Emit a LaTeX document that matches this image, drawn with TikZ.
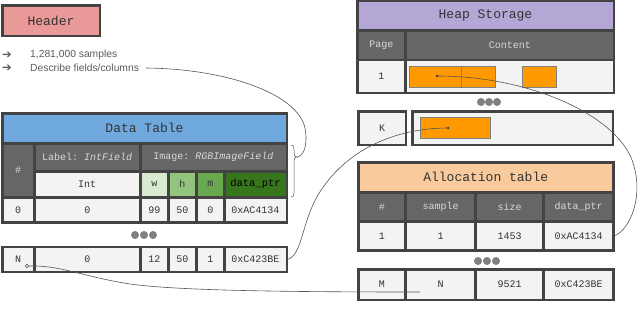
\documentclass[tikz,border=0pt]{standalone}
\usepackage{fontspec}
\setmainfont{Liberation Sans}
\setmonofont{Liberation Mono}
\newfontfamily\symfont{DejaVu Sans}
\definecolor{bord}{HTML}{434343}
\definecolor{cellD}{HTML}{666666}
\definecolor{cellL}{HTML}{F3F3F3}
\definecolor{txtL}{HTML}{D9D9D9}
\definecolor{txtD}{HTML}{333333}
\definecolor{pinkH}{HTML}{EA9999}
\definecolor{blueH}{HTML}{6FA8DC}
\definecolor{purpH}{HTML}{B4A7D6}
\definecolor{orgH}{HTML}{F9CB9C}
\definecolor{gA}{HTML}{D9EAD3}
\definecolor{gB}{HTML}{93C47D}
\definecolor{gC}{HTML}{6AA84F}
\definecolor{gD}{HTML}{38761D}
\definecolor{orangeB}{HTML}{FF9900}
\definecolor{dotc}{HTML}{808080}
\definecolor{connc}{HTML}{555555}
\definecolor{bulc}{HTML}{5A5A5A}
\newcommand\cell[7]{\node[inner sep=0pt, outer sep=0pt, #6, minimum width={(#4-#2)*1pt}, minimum height={(#5-#3)*1pt}] (#1) at ({(#2+#4)/2},{(#3+#5)/2}) {#7};}
\tikzset{
  blk/.style={fill=bord},
  lc/.style={fill=cellL, text=txtD, font=\ttfamily\fontsize{10}{12}\selectfont},
  dc/.style={fill=cellD, text=txtL, font=\ttfamily\fontsize{10}{12}\selectfont},
  ttl/.style={text=txtD, font=\ttfamily\fontsize{13}{15}\selectfont},
  obox/.style={fill=orangeB, draw=gray, line width=0.7pt},
  bigdot/.style={circle, fill=dotc, minimum size=8pt, inner sep=0pt},
  smalldot/.style={circle, fill=bord, minimum size=3pt, inner sep=0pt},
  conn/.style={draw=connc, line width=0.6pt},
  bul/.style={anchor=west, inner sep=0pt, text=bulc, font=\fontsize{10.3}{12}\selectfont}
}
\begin{document}
\begin{tikzpicture}[x=1pt,y=-1pt]
\useasboundingbox (0,0) rectangle (640,324);
% Header
\cell{hdrbg}{1}{4}{101}{37}{blk}{}
\cell{hdr}{3.5}{6.5}{98.5}{34.5}{ttl,fill=pinkH}{Header}
\node[bul] (a1) at (2,55) {\symfont\fontsize{11.5}{12}\selectfont ➔};
\node[bul] (a2) at (2,68) {\symfont\fontsize{11.5}{12}\selectfont ➔};
\node[bul] (t1) at (30,55) {1,281,000 samples};
\node[bul] (t2) at (30,68) {Describe fields/columns};
% Data table
\cell{dtbg}{1}{112}{288}{223.5}{blk}{}
\cell{dth}{3.5}{114.5}{285.5}{142}{ttl,fill=blueH}{Data Table}
\cell{dtnum}{3.5}{144.5}{33}{196}{dc}{\#}
\cell{dtlab}{35.5}{144.5}{139}{170}{dc}{Label: \textit{IntField}}
\cell{dtimg}{141.5}{144.5}{285.5}{170}{dc}{Image: \textit{RGBImageField}}
\cell{dtint}{35.5}{172.5}{139}{196}{lc}{Int}
\cell{dtw}{141.5}{172.5}{167}{196}{lc,fill=gA}{w}
\cell{dthh}{169.5}{172.5}{195}{196}{lc,fill=gB}{h}
\cell{dtm}{197.5}{172.5}{223}{196}{lc,fill=gC}{m}
\cell{dtp}{225.5}{172.5}{285.5}{196}{lc,fill=gD,text=black,font=\ttfamily\fontsize{10.5}{12}\selectfont}{data\_ptr}
\cell{r0a}{3.5}{198.5}{33}{221}{lc}{0}
\cell{r0b}{35.5}{198.5}{139}{221}{lc}{0}
\cell{r0c}{141.5}{198.5}{167}{221}{lc}{99}
\cell{r0d}{169.5}{198.5}{195}{221}{lc}{50}
\cell{r0e}{197.5}{198.5}{223}{221}{lc}{0}
\cell{r0f}{225.5}{198.5}{285.5}{221}{lc}{0xAC4134}
\node[bigdot] (dd1) at (135,235) {};
\node[bigdot] (dd2) at (144,235) {};
\node[bigdot] (dd3) at (153,235) {};
\cell{rNbg}{1}{245.5}{288}{273}{blk}{}
\cell{rNa}{3.5}{248}{33}{270.5}{lc}{N}
\cell{rNb}{35.5}{248}{139}{270.5}{lc}{0}
\cell{rNc}{141.5}{248}{167}{270.5}{lc}{12}
\cell{rNd}{169.5}{248}{195}{270.5}{lc}{50}
\cell{rNe}{197.5}{248}{223}{270.5}{lc}{1}
\cell{rNf}{225.5}{248}{285.5}{270.5}{lc}{0xC423BE}
% brace
\coordinate (bt) at (297,157);
\draw[connc, line width=0.5pt] (291,145) .. controls (293.5,145) and (294,146) .. (294,149) -- (294,153) .. controls (294,156) and (295,157) .. (bt) .. controls (295,157) and (294,158) .. (294,161) -- (294,193) .. controls (294,196) and (293.5,197) .. (291,197);
% Heap storage
\cell{hsbg}{356}{-1}{615}{94}{blk}{}
\cell{hsh}{358.5}{1.5}{612.5}{29}{ttl,fill=purpH}{Heap Storage}
\cell{hspg}{358.5}{31.5}{404}{58.5}{dc}{Page}
\cell{hsct}{407}{31.5}{612.5}{58.5}{dc}{Content}
\cell{hs1a}{358.5}{61}{404}{91.5}{lc}{1}
\cell{hs1b}{407}{61}{612.5}{91.5}{lc}{}
\cell{o1}{409}{66}{461}{87}{obox}{}
\cell{o2}{461}{66}{495}{87}{obox}{}
\cell{o3}{522}{66}{556}{87}{obox}{}
\node[bigdot] (hd1) at (481,102) {};
\node[bigdot] (hd2) at (489,102) {};
\node[bigdot] (hd3) at (497,102) {};
\cell{kbg}{357}{110}{407}{146}{blk}{}
\cell{ka}{359.5}{112.5}{404.5}{143.5}{lc}{K}
\cell{kcbg}{411}{110}{614}{146}{blk}{}
\cell{kb}{413.5}{112.5}{611.5}{143.5}{lc}{}
\cell{o4}{420}{117}{490}{138}{obox}{}
% Allocation table
\cell{atbg}{357}{161}{614.5}{251.5}{blk}{}
\cell{ath}{359.5}{163.5}{612}{191}{ttl,fill=orgH}{Allocation table}
\cell{a0a}{359.5}{193.5}{404}{220}{dc}{\#}
\cell{a0b}{407}{193.5}{474}{220}{dc}{sample}
\cell{a0c}{477}{193.5}{542}{220}{dc}{size}
\cell{a0d}{545}{193.5}{612}{220}{dc}{data\_ptr}
\cell{a1a}{359.5}{222.5}{404}{249}{lc}{1}
\cell{a1b}{407}{222.5}{474}{249}{lc}{1}
\cell{a1c}{477}{222.5}{542}{249}{lc}{1453}
\cell{a1d}{545}{222.5}{612}{249}{lc}{0xAC4134}
\node[bigdot] (ad1) at (478,261) {};
\node[bigdot] (ad2) at (487,261) {};
\node[bigdot] (ad3) at (496,261) {};
\cell{ambg}{357}{268}{614.5}{301}{blk}{}
\cell{ama}{359.5}{270.5}{404}{298.5}{lc}{M}
\cell{amb}{407}{270.5}{474}{298.5}{lc}{N}
\cell{amc}{477}{270.5}{542}{298.5}{lc}{9521}
\cell{amd}{545}{270.5}{612}{298.5}{lc}{0xC423BE}
% connectors
\node[smalldot] (hdot) at (437,76) {};
\node[smalldot] (kdot) at (448,128) {};
\coordinate (mend) at (420,292);
\draw[conn] ([xshift=7pt]t2.east) .. controls (230,69) and (298,95) .. (305,128) .. controls (308,145) and (304,156) .. (bt);
\draw[conn] (hdot.center) .. controls (530,76) and (615,115) .. (632,160) .. controls (645,195) and (630,230) .. ([xshift=2.5pt]a1d.east);
\draw[conn] (kdot.center) .. controls (395,128) and (345,150) .. (318,195) .. controls (302,222) and (302,255) .. ([xshift=2.5pt]rNf.east);
\node[circle, draw=bord, fill=white, line width=0.5pt, minimum size=3.5pt, inner sep=0pt] (ndot) at (27,266) {};
\draw[conn] (ndot.east) .. controls (60,265) and (80,276) .. (130,284) .. controls (180,291) and (300,292) .. (mend);
\end{tikzpicture}
\end{document}
